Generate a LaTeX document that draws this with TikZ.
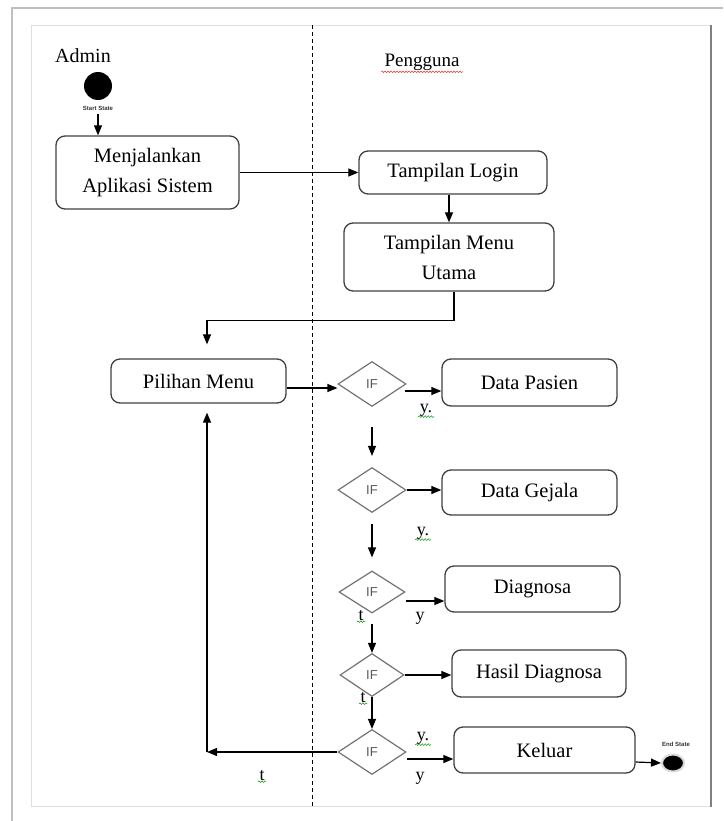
\documentclass[tikz,border=0pt]{standalone}
\usepackage{fontspec}
\setmainfont{Liberation Serif}
\newfontfamily\ifsans{Liberation Sans}
\usetikzlibrary{shapes.geometric, arrows.meta, positioning, decorations.pathmorphing}

\begin{document}
\begin{tikzpicture}[x=1pt, y=-1pt,
    act/.style={rectangle, draw=black!75, line width=1.3pt, rounded corners=9pt, align=center, inner sep=0pt, font=\fontsize{20.5}{30}\selectfont},
    cond/.style={diamond, draw=black!55, line width=1.2pt, inner sep=0pt, minimum width=68pt, minimum height=45pt, font=\ifsans\fontsize{13}{13}\selectfont, text=black!65},
    arrow/.style={-{Triangle[length=10pt, width=8pt]}, line width=1.2pt},
    lbl/.style={font=\fontsize{18}{18}\selectfont},
    tiny/.style={font=\ifsans\bfseries\fontsize{6}{6}\selectfont, text=black!80},
    wavy/.style={decorate, decoration={snake, amplitude=0.8pt, segment length=3pt}, line width=0.5pt}
]
    \useasboundingbox (0,0) rectangle (723,821);
    % page frame
    \draw[black!25, line width=2pt] (12,821) -- (12,8) -- (723,8);
    \draw[black!12] (31,25) rectangle (711,806);
    \draw[black!50, line width=1.5pt] (711,25) -- (711,807);
    \draw[dashed, line width=1pt, dash pattern=on 4pt off 3pt] (312,25) -- (312,806);

    \node[font=\fontsize{20}{20}\selectfont] (admin) at (83,56) {Admin};
    \node[font=\fontsize{19}{19}\selectfont] (pengguna) at (422,62) {Pengguna};
    \draw[wavy, red!80] ([yshift=2pt]pengguna.south west) -- ([yshift=2pt]pengguna.south east);

    \node[circle, fill=black, minimum size=28pt, inner sep=0pt] (start) at (98,86) {};
    \node[tiny] (startlbl) at (98,108) {Start State};

    \node[act, minimum width=183pt, minimum height=73pt] (jalan) at (147.5,172.5) {Menjalankan\\Aplikasi Sistem};
    \node[act, minimum width=188pt, minimum height=43pt] (login) at (453,172.5) {Tampilan Login};
    \node[act, minimum width=210pt, minimum height=68pt] (utama) at (449,257) {Tampilan Menu\\Utama};
    \node[act, minimum width=175pt, minimum height=44pt] (pilihan) at (198.5,381) {Pilihan Menu};

    \node[cond] (if1) at (372,384) {IF};
    \node[cond] (if2) at (372,490) {IF};
    \node[cond, minimum width=66pt, minimum height=42pt] (if3) at (372,592) {IF};
    \node[cond, minimum width=64pt, minimum height=43pt] (if4) at (372,675) {IF};
    \node[cond] (if5) at (372,752) {IF};

    \node[act, minimum width=175pt, minimum height=47pt] (pasien) at (529.5,382.5) {Data Pasien};
    \node[act, minimum width=175pt, minimum height=45pt] (gejala) at (529.5,492.5) {Data Gejala};
    \node[act, minimum width=175pt, minimum height=46pt] (diag) at (532.5,589) {Diagnosa};
    \node[act, minimum width=174pt, minimum height=47pt] (hasil) at (539,673.5) {Hasil Diagnosa};
    \node[act, minimum width=181pt, minimum height=46pt] (keluar) at (544.5,750) {Keluar};

    \node[ellipse, fill=black, draw=black!15, line width=2pt, minimum width=22pt, minimum height=17pt, inner sep=0pt] (end) at (673,763) {};
    \node[tiny] (endlbl) at (676,744) {End State};

    \coordinate (back) at (207,752);

    \draw[arrow] (startlbl.south) -- (startlbl.south |- jalan.north);
    \draw[arrow] (jalan.east) -- (login.west);
    \draw[arrow] (utama.north |- login.south) -- (utama.north);
    \draw[arrow, shorten >=14pt] ([xshift=5pt]utama.south) -- ++(0,29) -| ([xshift=8.5pt]pilihan.north);
    \draw[arrow] ([yshift=-7pt]pilihan.east) -- ([yshift=-7pt]pilihan.east -| if1.west);

    \draw[arrow] ([xshift=-2pt, yshift=-7pt]if1.east) -- ([yshift=-7pt]if1.east -| pasien.west);
    \draw[arrow] (if2.east) -- (if2.east -| gejala.west);
    \draw[arrow] ([yshift=-9pt]if3.east) -- ([yshift=-9pt]if3.east -| diag.west);
    \draw[arrow] (if4.east) -- (if4.east -| hasil.west);
    \draw[arrow] ([yshift=-7pt]if5.east) -- ([yshift=-7pt]if5.east -| keluar.west);
    \draw[arrow] ([yshift=-12pt]keluar.east) -- (end.west);

    \draw[arrow, shorten <=20pt, shorten >=11pt] (if1.south) -- (if2.north);
    \draw[arrow, shorten <=11pt, shorten >=13pt] (if2.south) -- (if3.north);
    \draw[arrow, shorten <=10pt] (if3.south) -- (if4.north);
    \draw[arrow] (if4.south) -- (if5.north);

    \draw[arrow] (if5.west) -- (back);
    \draw[arrow, shorten >=9pt] (back) -- (back |- pilihan.south);

    \node[lbl] (y1) at (426,410) {y.};
    \node[lbl] (y2) at (423,533) {y.};
    \node[lbl] (t3) at (361,616) {t};
    \node[lbl] (y3) at (420,618) {y};
    \node[lbl] (t4) at (363,698) {t};
    \node[lbl] (y5) at (423,738) {y.};
    \node[lbl] (n5) at (420,778) {y};
    \node[lbl] (t5) at (262,776) {t};
    \foreach \l in {y1, y2, t3, t4, y5, t5}
        \draw[wavy, green!60!black] ([yshift=3pt, xshift=2pt]\l.south west) -- ([yshift=3pt, xshift=-2pt]\l.south east);
\end{tikzpicture}
\end{document}
